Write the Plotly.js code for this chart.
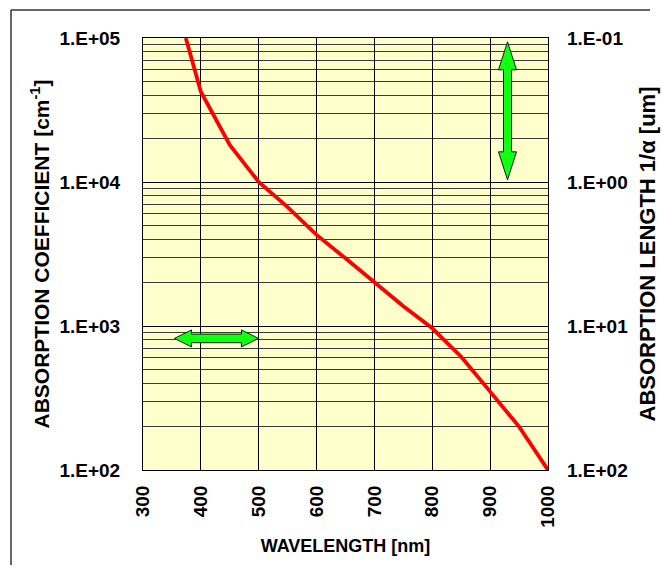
<!DOCTYPE html>
<html>
<head>
<meta charset="utf-8">
<script src="https://cdn.plot.ly/plotly-3.0.1.min.js"></script>
<style>html,body{margin:0;padding:0;background:#fff;overflow:hidden;}#chart{width:662px;height:575px;overflow:hidden;}</style>
</head>
<body>
<div id="chart"></div>
<script>
// Wavelength [nm] and absorption coefficient [cm^-1]
const wavelength = [374, 400, 450, 500, 550, 600, 650, 700, 750, 800, 850, 900, 950, 1000];
const absorption = [100000, 42400, 18100, 10000, 6700, 4290, 2950, 2030, 1370, 964, 612, 350, 200, 100];

// Axis ticks
const xTicks = [300, 400, 500, 600, 700, 800, 900, 1000];
const yTickVals = [100, 1000, 10000, 100000];
const yTickText = ['1.E+02', '1.E+03', '1.E+04', '1.E+05'];
const y2TickVals = [0.1, 1, 10, 100];
const y2TickText = ['1.E-01', '1.E+00', '1.E+01', '1.E+02'];
const minorMultipliers = [2, 3, 4, 5, 6, 7, 8, 9];
const minorDecades = [100, 1000, 10000];

// Arrow annotations (centre wavelength, centre absorption)
const vArrow = {x: 930, y: 31200};
const hArrow = {x: 427, y: 820};

const xRange = [300, 1000];
const yRangeLog = [2, 5];
const margin = {l: 143, r: 114, t: 38, b: 105};
const W = 662, H = 575;
const plotW = W - margin.l - margin.r, plotH = H - margin.t - margin.b;

const minorVals = [];
minorDecades.forEach(d => minorMultipliers.forEach(m => minorVals.push(d * m)));

// absorption length in um = 1e4 / alpha[cm^-1]
const absLength = absorption.map(a => 1e4 / a);

// block double arrow, given in pixel offsets around a data-anchored centre, output in paper coords
function arrowPath(c, L, Hh, Wd, S, vertical) {
  const cx = (c.x - xRange[0]) / (xRange[1] - xRange[0]);
  const cy = (Math.log10(c.y) - yRangeLog[0]) / (yRangeLog[1] - yRangeLog[0]);
  const pts = [[0, L], [Wd, L - Hh], [S, L - Hh], [S, -(L - Hh)], [Wd, -(L - Hh)], [0, -L],
               [-Wd, -(L - Hh)], [-S, -(L - Hh)], [-S, L - Hh], [-Wd, L - Hh]];
  return 'M' + pts.map(p => {
    const dx = vertical ? p[0] : p[1];
    const dy = vertical ? p[1] : p[0];
    return (cx + dx / plotW).toFixed(5) + ',' + (cy + dy / plotH).toFixed(5);
  }).join(' L') + ' Z';
}

const tickFont = {family: 'Liberation Sans, Arial, sans-serif', size: 19, color: '#000', weight: 'bold'};
const titleFont = {family: 'Liberation Sans, Arial, sans-serif', size: 21, color: '#000', weight: 'bold'};
const title2Font = {family: 'Liberation Sans, Arial, sans-serif', size: 22, color: '#000', weight: 'bold'};

const traces = [
  {x: wavelength, y: absorption, type: 'scatter', mode: 'lines',
   line: {color: '#ff0000', width: 3.8}, hoverinfo: 'skip', showlegend: false},
  {x: wavelength, y: absLength, type: 'scatter', mode: 'lines', yaxis: 'y2',
   line: {color: 'rgba(0,0,0,0)', width: 0}, hoverinfo: 'skip', showlegend: false}
];

const layout = {
  width: W, height: H,
  margin: margin,
  paper_bgcolor: '#ffffff',
  plot_bgcolor: '#ffffcc',
  showlegend: false,
  xaxis: {
    range: xRange, tickvals: xTicks, ticktext: xTicks.map(String),
    tickangle: -90, tickfont: tickFont, ticks: '', ticklabelstandoff: 7,
    showgrid: true, gridcolor: '#000', gridwidth: 1,
    showline: true, linecolor: '#000', linewidth: 1, mirror: true, zeroline: false,
    title: {text: 'WAVELENGTH [nm]', font: {family: 'Liberation Sans, Arial, sans-serif', size: 18, color: '#000', weight: 'bold'}, standoff: 12}
  },
  yaxis: {
    type: 'log', range: yRangeLog, tickvals: yTickVals, ticktext: yTickText,
    tickfont: tickFont, ticks: '', ticklabelstandoff: 18,
    showgrid: true, gridcolor: '#000', gridwidth: 1,
    minor: {tickmode: 'array', tickvals: minorVals, showgrid: true, gridcolor: '#3a3a3a', gridwidth: 1, ticks: ''},
    showline: true, linecolor: '#000', linewidth: 1, mirror: true, zeroline: false,
    title: {text: 'ABSORPTION COEFFICIENT [cm<sup>-1</sup>]', font: titleFont, standoff: 4}
  },
  yaxis2: {
    type: 'log', range: [2, -1], overlaying: 'y', side: 'right',
    tickvals: y2TickVals, ticktext: y2TickText,
    tickfont: tickFont, ticks: '', ticklabelstandoff: 18,
    showgrid: false, zeroline: false, showline: false,
    title: {text: 'ABSORPTION LENGTH 1/α [um]', font: title2Font, standoff: 12}
  },
  shapes: [
    {type: 'path', xref: 'paper', yref: 'paper',
     path: arrowPath(vArrow, 69, 28, 9, 4, true),
     fillcolor: '#11ff11', line: {color: '#0a200a', width: 1}, layer: 'above'},
    {type: 'path', xref: 'paper', yref: 'paper',
     path: arrowPath(hArrow, 42, 17, 8.5, 4.3, false),
     fillcolor: '#11ff11', line: {color: '#0a200a', width: 1}, layer: 'above'},
    {type: 'line', xref: 'paper', yref: 'paper',
     x0: (11 - margin.l) / plotW, x1: (650 - margin.l) / plotW,
     y0: (H - margin.b - 10) / plotH, y1: (H - margin.b - 10) / plotH,
     line: {color: '#333', width: 1.5}, layer: 'above'},
    {type: 'line', xref: 'paper', yref: 'paper',
     x0: (11 - margin.l) / plotW, x1: (11 - margin.l) / plotW,
     y0: (H - margin.b - 10) / plotH, y1: (H - margin.b - 565) / plotH,
     line: {color: '#333', width: 1.5}, layer: 'above'}
  ]
};

Plotly.newPlot('chart', traces, layout, {staticPlot: true, displayModeBar: false});
</script>
</body>
</html>
